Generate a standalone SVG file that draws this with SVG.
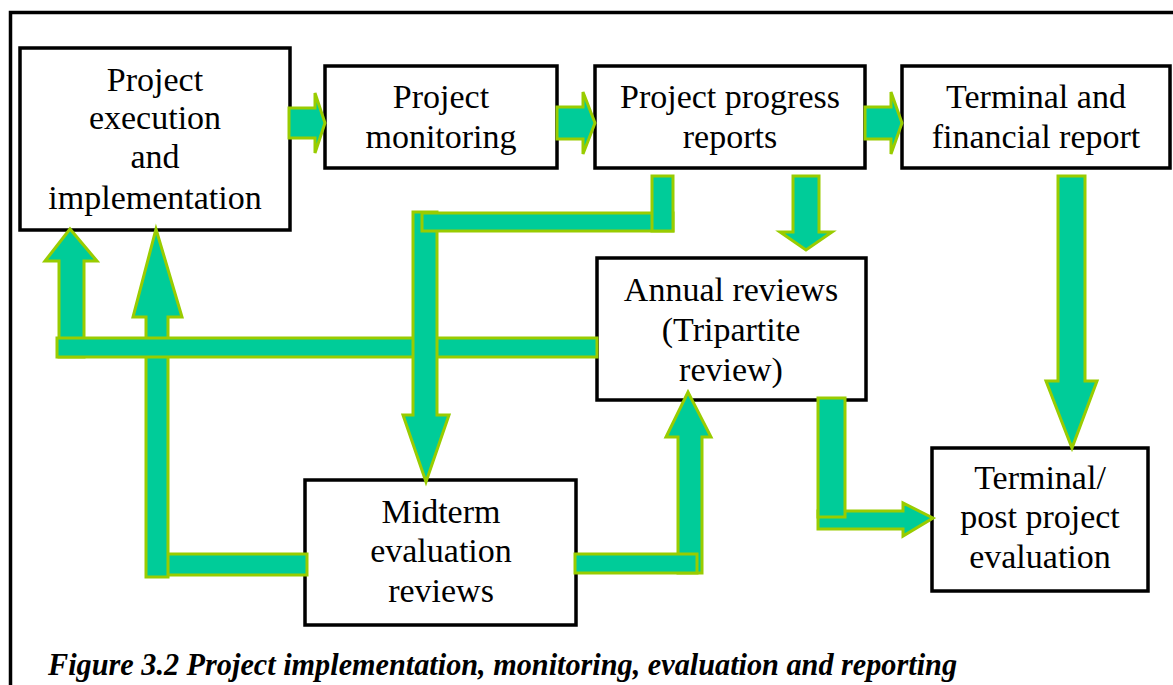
<svg xmlns="http://www.w3.org/2000/svg" width="1173" height="685" viewBox="0 0 1173 685">
<style>
.box{fill:#ffffff;stroke:#000000;stroke-width:3.5;}
.t{font-family:"Liberation Serif","Times New Roman",serif;font-size:34px;fill:#000000;text-anchor:middle;}
.arr{fill:#00CC99;stroke:#99CC00;stroke-width:3;stroke-linejoin:miter;}
.cap{font-family:"Liberation Serif","Times New Roman",serif;font-size:32px;font-weight:bold;font-style:italic;fill:#000000;}
</style>
<rect width="1173" height="685" fill="#ffffff"/>
<path d="M10.5,685 V12.5 H1173" fill="none" stroke="#000000" stroke-width="3.5"/>

<g id="node-execution">
<rect class="box" x="20" y="48" width="270" height="182"/>
<text class="t" x="155" y="91">Project</text>
<text class="t" x="155" y="129">execution</text>
<text class="t" x="155" y="168">and</text>
<text class="t" x="155" y="209">implementation</text>
</g>
<g id="node-monitoring">
<rect class="box" x="325" y="66" width="232" height="102"/>
<text class="t" x="441" y="108">Project</text>
<text class="t" x="441" y="148">monitoring</text>
</g>
<g id="node-progress">
<rect class="box" x="595" y="66" width="270" height="102"/>
<text class="t" x="730" y="108">Project progress</text>
<text class="t" x="730" y="148">reports</text>
</g>
<g id="node-terminal-financial">
<rect class="box" x="902" y="66" width="268" height="102"/>
<text class="t" x="1036" y="108">Terminal and</text>
<text class="t" x="1036" y="148">financial report</text>
</g>
<g id="node-annual">
<rect class="box" x="597" y="258" width="269" height="142"/>
<text class="t" x="731" y="301">Annual reviews</text>
<text class="t" x="731" y="341">(Tripartite</text>
<text class="t" x="731" y="381">review)</text>
</g>
<g id="node-midterm">
<rect class="box" x="305" y="480" width="271" height="145"/>
<text class="t" x="441" y="523">Midterm</text>
<text class="t" x="441" y="562">evaluation</text>
<text class="t" x="441" y="602">reviews</text>
</g>
<g id="node-terminal-post">
<rect class="box" x="932" y="448" width="216" height="143"/>
<text class="t" x="1040" y="489">Terminal/</text>
<text class="t" x="1040" y="528">post project</text>
<text class="t" x="1040" y="568">evaluation</text>
</g>

<g id="connectors">
<path class="arr" d="M289,108 H315 V93 L325,123 L315,153 V138 H289 Z"/>
<path class="arr" d="M557,107 H583 V92 L595,123 L583,154 V139 H557 Z"/>
<path class="arr" d="M865,107 H891 V92 L902,123 L891,154 V139 H865 Z"/>
<path class="arr" d="M793,176 H819 V232 H832 L806,250 L780,232 H793 Z"/>
<path class="arr" d="M1058,176 H1085 V381 H1097 L1072,448 L1046,381 H1058 Z"/>
<!-- midterm to execution -->
<rect class="arr" x="165" y="554" width="142" height="21"/>
<path class="arr" d="M146,577 V317 H133 L156,229 L182,317 H168 V577 Z"/>
<!-- annual to execution -->
<path class="arr" d="M59,357 V261 H45 L70,229 L97,261 H84 V357 Z"/>
<rect class="arr" x="57" y="338" width="540" height="19"/>
<!-- progress to midterm -->
<path class="arr" d="M413,212 H437 V415 H449 L426,482 L403,415 H413 Z"/>
<rect class="arr" x="422" y="213" width="251" height="18"/>
<rect class="arr" x="652" y="176" width="21" height="55"/>
<!-- midterm to annual -->
<path class="arr" d="M678,573 V437 H666 L688,392 L711,437 H702 V573 Z"/>
<rect class="arr" x="575" y="554" width="122" height="19"/>
<!-- annual to terminal/post -->
<path class="arr" d="M818,511 H903 V503 L933,518 L903,536 V529 H818 Z"/>
<rect class="arr" x="818" y="398" width="27" height="119"/>
</g>

<text class="cap" x="48" y="675" textLength="909" lengthAdjust="spacingAndGlyphs">Figure 3.2 Project implementation, monitoring, evaluation and reporting</text>
</svg>
